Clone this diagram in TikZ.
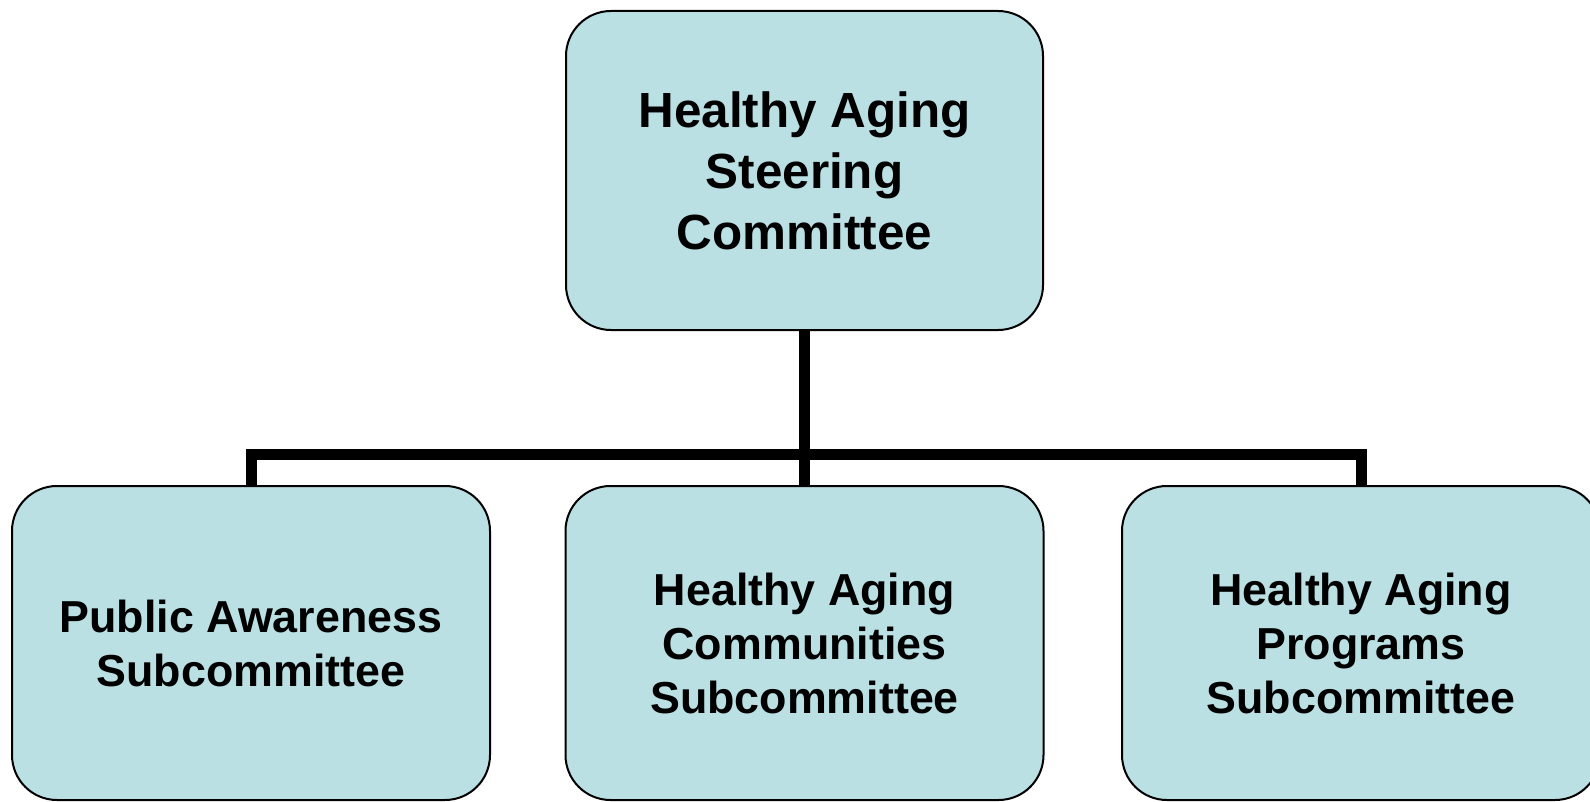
\documentclass[tikz,border=0pt]{standalone}
\usepackage{fontspec}
\setmainfont{Liberation Sans}
\definecolor{boxfill}{HTML}{BBE0E3}

\begin{document}
\begin{tikzpicture}[x=0.5pt,y=-0.5pt,
  topbox/.style={rectangle,rounded corners=22.5pt,draw=black,line width=1pt,fill=boxfill,
    minimum width=238.5pt,minimum height=159.5pt,align=center,
    font=\fontsize{24.7pt}{30.5pt}\selectfont\bfseries},
  subbox/.style={rectangle,rounded corners=22.5pt,draw=black,line width=1pt,fill=boxfill,
    minimum width=239pt,minimum height=157pt,align=center,
    font=\fontsize{22.4pt}{27pt}\selectfont\bfseries},
  conn/.style={line width=5.5pt,line join=miter}]
\useasboundingbox (0,0) rectangle (1590,802);

\node[topbox] (steer) at (804.5,170.5) {Healthy Aging\\Steering\\Committee};

\node[subbox] (pub) at (251,643) {Public Awareness\\Subcommittee};
\node[subbox] (comm) at (804.5,643) {Healthy Aging\\Communities\\Subcommittee};
\node[subbox] (prog) at (1361,643) {Healthy Aging\\Programs\\Subcommittee};

\coordinate (bar) at (804.5,454.5);

\draw[conn] (steer.south) -- (comm.north);
\draw[conn] (pub.north) |- (bar) -| (prog.north);

\end{tikzpicture}
\end{document}
